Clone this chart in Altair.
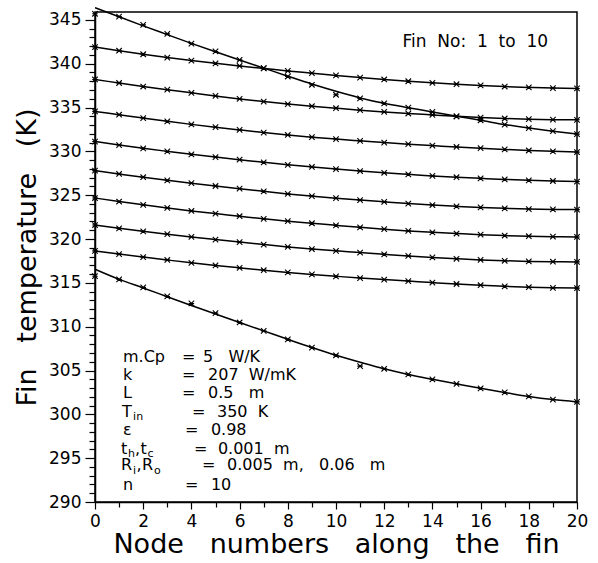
import altair as alt
import pandas as pd

NB = "\u00a0"  # non-breaking space keeps wide word gaps in SVG text


def wide(s):
    return s.replace(" ", NB)


nodes = list(range(21))

# Fin temperature (K) at each node, fins listed from the hottest to the coolest
fin_a = [346.40, 345.35, 344.32, 343.32, 342.32, 341.36, 340.42, 339.50, 338.58, 337.68,
         336.85, 336.10, 335.48, 334.98, 334.50, 334.00, 333.55, 333.06, 332.66, 332.30, 331.97]
fin_b = [341.90, 341.48, 341.08, 340.70, 340.36, 340.04, 339.74, 339.46, 339.18, 338.92,
         338.66, 338.42, 338.20, 338.00, 337.82, 337.66, 337.52, 337.40, 337.30, 337.22, 337.18]
fin_c = [338.20, 337.80, 337.40, 337.04, 336.68, 336.32, 335.98, 335.68, 335.40, 335.15,
         334.92, 334.70, 334.50, 334.32, 334.16, 334.00, 333.86, 333.75, 333.67, 333.62, 333.60]
fin_d = [334.56, 334.18, 333.80, 333.43, 333.08, 332.76, 332.45, 332.15, 331.87, 331.62,
         331.40, 331.20, 331.00, 330.82, 330.66, 330.50, 330.36, 330.22, 330.10, 330.00, 329.92]
fin_e = [331.12, 330.72, 330.35, 330.00, 329.66, 329.35, 329.05, 328.75, 328.47, 328.22,
         327.98, 327.76, 327.56, 327.38, 327.20, 327.05, 326.92, 326.80, 326.70, 326.62, 326.56]
fin_f = [327.80, 327.42, 327.05, 326.70, 326.37, 326.05, 325.74, 325.44, 325.15, 324.90,
         324.66, 324.44, 324.24, 324.05, 323.88, 323.73, 323.60, 323.50, 323.42, 323.38, 323.36]
fin_g = [324.68, 324.28, 323.90, 323.55, 323.20, 322.90, 322.60, 322.30, 322.04, 321.80,
         321.56, 321.33, 321.12, 320.93, 320.77, 320.63, 320.50, 320.40, 320.32, 320.27, 320.24]
fin_h = [321.60, 321.22, 320.88, 320.55, 320.24, 319.94, 319.65, 319.37, 319.10, 318.86,
         318.66, 318.46, 318.26, 318.07, 317.90, 317.75, 317.62, 317.52, 317.45, 317.41, 317.39]
fin_i = [318.65, 318.28, 317.94, 317.61, 317.29, 316.99, 316.71, 316.44, 316.19, 315.96,
         315.75, 315.55, 315.37, 315.20, 315.03, 314.87, 314.73, 314.60, 314.50, 314.43, 314.40]
fin_j = [316.55, 315.40, 314.42, 313.42, 312.42, 311.45, 310.48, 309.52, 308.56, 307.62,
         306.74, 305.95, 305.20, 304.55, 304.00, 303.48, 302.97, 302.50, 302.04, 301.68, 301.42]

# Node-by-node points; the outer fins scatter slightly about their curves
pts_a = [345.70, 345.37, 344.43, 343.40, 342.30, 341.40, 340.44, 339.49, 338.54, 337.60,
         336.46, 336.04, 335.48, 334.98, 334.50, 334.00, 333.55, 333.06, 332.66, 332.30, 331.97]
pts_j = [315.76, 315.40, 314.48, 313.45, 312.65, 311.55, 310.48, 309.52, 308.56, 307.62,
         306.74, 305.50, 305.20, 304.55, 304.00, 303.48, 302.97, 302.50, 302.04, 301.68, 301.42]

fins = [fin_a, fin_b, fin_c, fin_d, fin_e, fin_f, fin_g, fin_h, fin_i, fin_j]
points = [pts_a, fin_b, fin_c, fin_d, fin_e, fin_f, fin_g, fin_h, fin_i, pts_j]

curve_rows = []
point_rows = []
for k, (line_vals, pt_vals) in enumerate(zip(fins, points)):
    for n, tv, pv in zip(nodes, line_vals, pt_vals):
        curve_rows.append({"fin": k + 1, "node": n, "temp": tv})
        point_rows.append({"fin": k + 1, "node": n, "temp": pv})
curves = pd.DataFrame(curve_rows)
pts = pd.DataFrame(point_rows)

# Parameter block, placed in data units (node, K)
param_text = [
    ("m.Cp", 1.16, 305.97), ("=", 3.61, 305.97), ("5   W/K", 4.48, 305.97),
    ("k", 1.16, 303.92), ("=", 3.61, 303.92), ("207  W/mK", 4.69, 303.92),
    ("L", 1.16, 301.83), ("=", 3.61, 301.83), ("0.5   m", 4.69, 301.83),
    ("T", 1.12, 299.73), ("=", 4.03, 299.73), ("350  K", 5.06, 299.73),
    ("ε", 1.16, 297.64), ("=", 3.73, 297.64), ("0.98", 4.81, 297.64),
    ("t", 1.08, 295.48), (",", 1.66, 295.48), ("t", 1.89, 295.48),
    ("=", 4.11, 295.48), ("0.001  m", 5.10, 295.48),
    ("R", 1.08, 293.65), (",", 1.72, 293.65), ("R", 1.95, 293.65),
    ("=", 4.44, 293.65), ("0.005  m,   0.06   m", 5.48, 293.65),
    ("n", 1.16, 291.37), ("=", 3.73, 291.37), ("10", 4.81, 291.37),
]
param_subs = [
    ("in", 1.58, 299.33),
    ("h", 1.37, 295.08), ("c", 2.18, 295.08),
    ("i", 1.58, 293.25), ("o", 2.45, 293.25),
]
fin_note = [("Fin  No:  1  to  10", 18.8, 341.94)]


def text_frame(items):
    return pd.DataFrame([{"label": wide(t), "node": x, "temp": y} for t, x, y in items])


FONT = "DejaVu Sans"
x_scale = alt.Scale(domain=[0, 20], nice=False, zero=False)
y_scale = alt.Scale(domain=[290, 345.9], nice=False, zero=False)

x_axis = alt.Axis(
    values=list(range(0, 21)),
    labelExpr="datum.value % 2 === 0 ? datum.label : ''",
    tickSize={"condition": {"test": "datum.value % 2 === 0", "value": 7}, "value": 5},
    labelOverlap=False, labelFlush=False,
    labelFont=FONT, labelFontSize=17, labelPadding=4, labelColor="black",
    title=wide("Node   numbers   along   the   fin"),
    titleFont=FONT, titleFontSize=27, titleFontWeight="normal", titleColor="black",
    titlePadding=2,
    domainColor="black", domainWidth=1.5, tickColor="black", tickWidth=1.2, grid=False,
)
y_axis = alt.Axis(
    values=list(range(290, 346)),
    labelExpr="datum.value % 5 === 0 ? datum.label : ''",
    tickSize={"condition": {"test": "datum.value % 5 === 0", "value": 10}, "value": 6},
    labelOverlap=False, labelFlush=False,
    labelFont=FONT, labelFontSize=17, labelPadding=4, labelColor="black",
    title=wide("Fin   temperature   (K)"),
    titleFont=FONT, titleFontSize=27, titleFontWeight="normal", titleColor="black",
    titlePadding=7,
    domainColor="black", domainWidth=1.5, tickColor="black", tickWidth=1.2, grid=False,
)

X = alt.X("node:Q", scale=x_scale, axis=x_axis)
Y = alt.Y("temp:Q", scale=y_scale, axis=y_axis)

lines = alt.Chart(curves).mark_line(
    color="black", strokeWidth=1.5, interpolate="monotone"
).encode(x=X, y=Y, detail="fin:N")

marks = alt.Chart(pts).mark_point(
    shape="M-1,-1L1,1M-1,1L1,-1M-1,0L1,0",
    size=30, color="black", filled=False, strokeWidth=1.1, opacity=1,
).encode(x=X, y=Y)

params = alt.Chart(text_frame(param_text)).mark_text(
    align="left", baseline="alphabetic", font=FONT, fontSize=16, color="black"
).encode(x=X, y=Y, text="label:N")

subs = alt.Chart(text_frame(param_subs)).mark_text(
    align="left", baseline="alphabetic", font=FONT, fontSize=11, color="black"
).encode(x=X, y=Y, text="label:N")

note = alt.Chart(text_frame(fin_note)).mark_text(
    align="right", baseline="alphabetic", font=FONT, fontSize=17, color="black"
).encode(x=X, y=Y, text="label:N")

chart = alt.layer(lines, marks, params, subs, note).properties(
    width=482, height=490,
    autosize=alt.AutoSizeParams(type="none"),
    padding={"left": 95, "top": 12, "right": 21, "bottom": 61},
    background="white",
).configure_view(stroke="black", strokeWidth=1.5)

chart.save("out.html", embed_options={"renderer": "svg", "actions": False})
